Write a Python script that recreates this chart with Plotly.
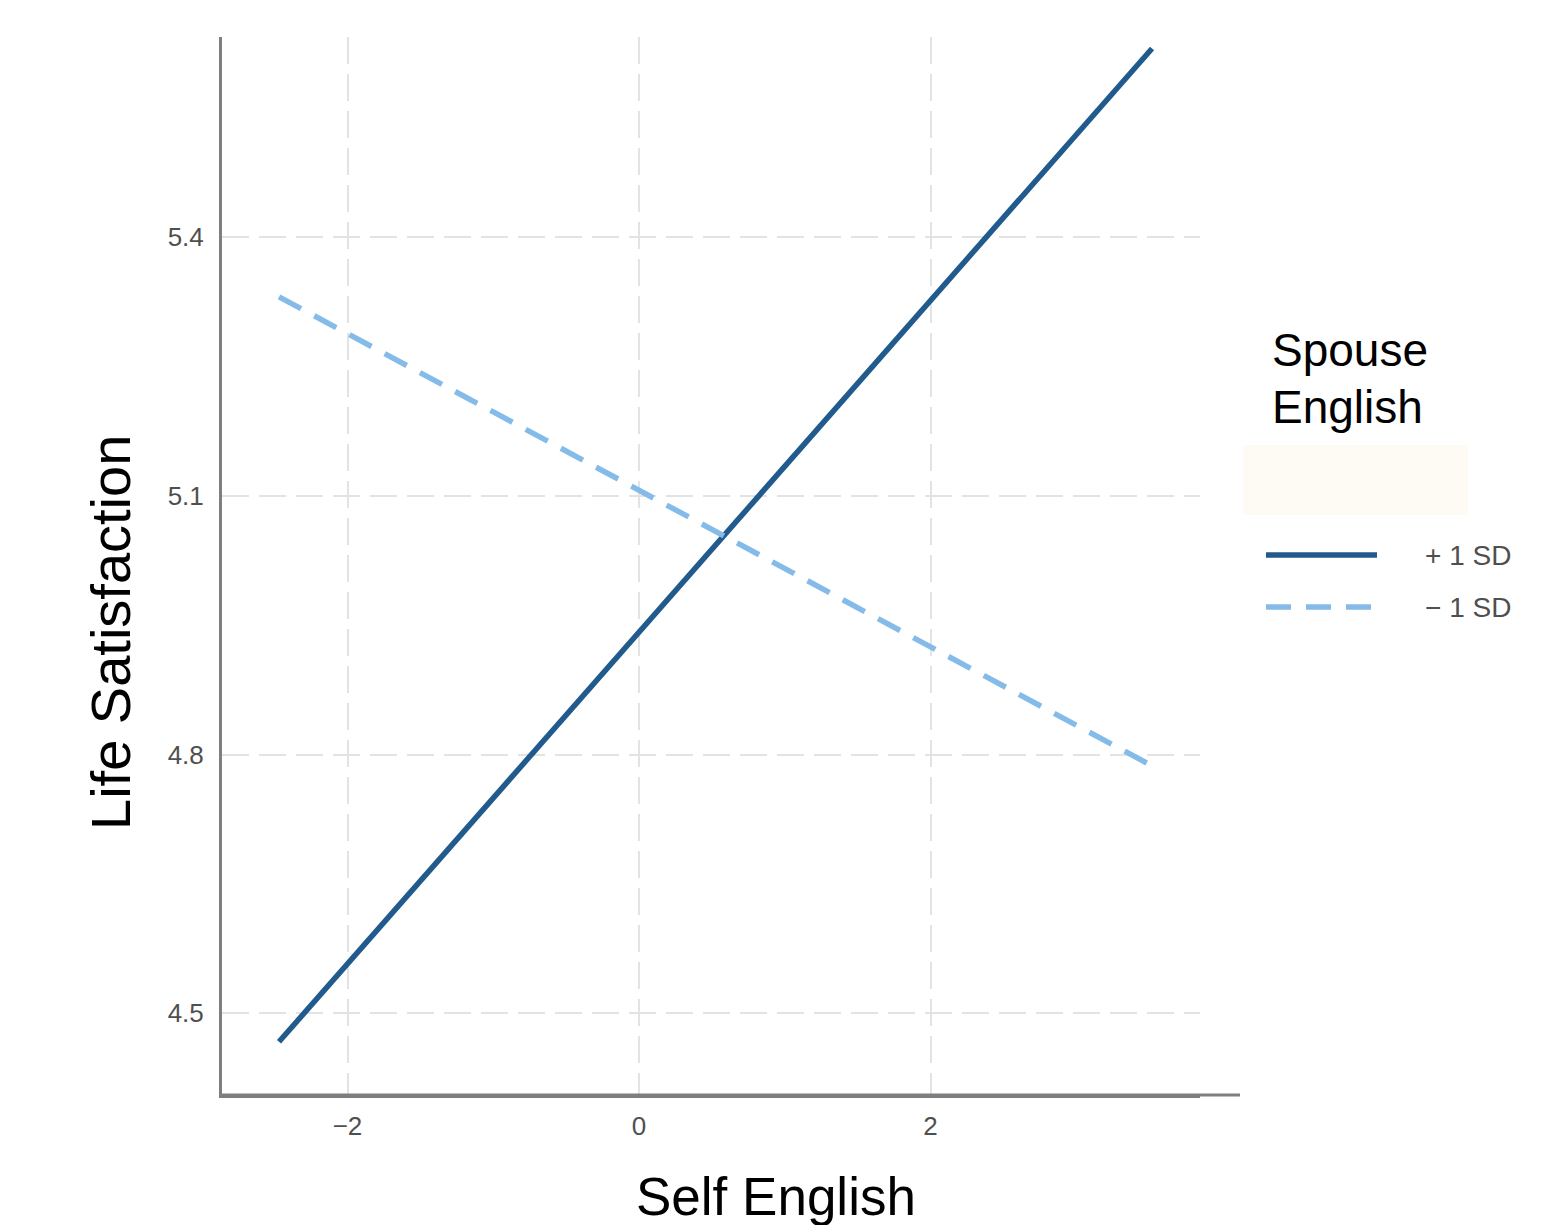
import plotly.graph_objects as go

# Data
self_english = [-2.47, 3.52]
plus_1sd = [4.467, 5.619]
minus_1sd = [5.331, 4.787]
series_names = ["+ 1 SD", "\u2212 1 SD"]
x_ticks = [-2, 0, 2]
x_ticklabels = ["\u22122", "0", "2"]
y_ticks = [4.5, 4.8, 5.1, 5.4]
y_ticklabels = ["4.5", "4.8", "5.1", "5.4"]

W, H = 1557, 1225
O = 8  # page body offset
# plot area in screen pixels
SL, SR, ST, SB = 222, 1200, 37, 1095
AXIS_END = 1240

dark = "#215a8c"
light = "#84bbe8"
FONT = "Arial, Liberation Sans, sans-serif"
TICK_COLOR = "#4f4f4f"

fig = go.Figure()
fig.add_trace(go.Scatter(x=self_english, y=plus_1sd, mode="lines", name=series_names[0],
                         line=dict(color=dark, width=5.5), showlegend=False))
fig.add_trace(go.Scatter(x=self_english, y=minus_1sd, mode="lines", name=series_names[1],
                         line=dict(color=light, width=5.5, dash="25px,15px"), showlegend=False))

pw = SR - SL
ph = SB - ST
def px(xs):
    return (xs - SL) / pw
def py(ys):
    return (SB - ys) / ph

# extend x-axis line beyond gridlines
fig.add_shape(type="line", xref="paper", yref="paper", x0=0, x1=px(AXIS_END), y0=0, y1=0,
              line=dict(color="#7f7f7f", width=3))
# faint box under legend title
fig.add_shape(type="rect", xref="paper", yref="paper", x0=px(1243), x1=px(1468), y0=py(515), y1=py(445),
              line=dict(width=0), fillcolor="#fdfbf4", layer="below")
# manual legend
fig.add_shape(type="line", xref="paper", yref="paper", x0=px(1266), x1=px(1377), y0=py(555), y1=py(555),
              line=dict(color=dark, width=5.5))
fig.add_shape(type="line", xref="paper", yref="paper", x0=px(1266), x1=px(1377), y0=py(607), y1=py(607),
              line=dict(color=light, width=5.5, dash="25px,15px"))
fig.add_annotation(xref="paper", yref="paper", x=px(1423), y=py(555), text=series_names[0],
                   showarrow=False, xanchor="left", yanchor="middle",
                   font=dict(family=FONT, size=28, color=TICK_COLOR))
fig.add_annotation(xref="paper", yref="paper", x=px(1423), y=py(607), text=series_names[1],
                   showarrow=False, xanchor="left", yanchor="middle",
                   font=dict(family=FONT, size=28, color=TICK_COLOR))
fig.add_annotation(xref="paper", yref="paper", x=px(1270), y=py(350), text="Spouse",
                   showarrow=False, xanchor="left", yanchor="middle",
                   font=dict(family=FONT, size=46, color="#000000"))
fig.add_annotation(xref="paper", yref="paper", x=px(1270), y=py(407), text="English",
                   showarrow=False, xanchor="left", yanchor="middle",
                   font=dict(family=FONT, size=46, color="#000000"))
# axis titles
fig.add_annotation(xref="paper", yref="paper", x=px(776), y=py(1196), text="Self English",
                   showarrow=False, xanchor="center", yanchor="middle",
                   font=dict(family=FONT, size=53, color="#000000"))
fig.add_annotation(xref="paper", yref="paper", x=px(110), y=py(633), text="Life Satisfaction",
                   showarrow=False, xanchor="center", yanchor="middle", textangle=-90,
                   font=dict(family=FONT, size=56, color="#000000"))

xspan = 145.75
yspan = 862.2
x_range = [(SL - 639) / xspan, (SR - 639) / xspan]
y_range = [5.1 - (SB - 496) / yspan, 5.1 + (496 - ST) / yspan]

fig.update_layout(
    width=W, height=H,
    margin=dict(l=SL - O, r=W - (SR - O), t=ST - O, b=H - (SB - O), pad=0, autoexpand=False),
    paper_bgcolor="white", plot_bgcolor="white",
    font=dict(family=FONT),
    showlegend=False,
    xaxis=dict(range=x_range, tickvals=x_ticks, ticktext=x_ticklabels, automargin=False,
               showgrid=True, gridcolor="#e3e3e3", gridwidth=2, griddash="27px,10px",
               zeroline=False, showline=True, linecolor="#7f7f7f", linewidth=3,
               ticks="", ticklabelstandoff=6,
               tickfont=dict(family=FONT, size=26, color=TICK_COLOR)),
    yaxis=dict(range=y_range, tickvals=y_ticks, ticktext=y_ticklabels, automargin=False,
               showgrid=True, gridcolor="#e3e3e3", gridwidth=2, griddash="27px,10px",
               zeroline=False, showline=True, linecolor="#7f7f7f", linewidth=3,
               ticks="", ticklabelstandoff=10,
               tickfont=dict(family=FONT, size=26, color=TICK_COLOR)),
)

fig.write_html("out.html")
